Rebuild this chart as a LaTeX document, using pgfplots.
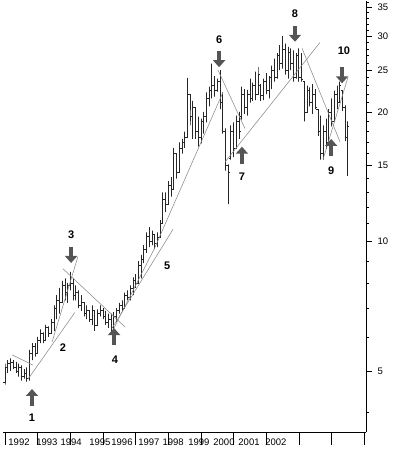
\documentclass[border=0pt]{standalone}
\usepackage{pgfplots}
\usepackage{pgfplotstable}
\pgfplotsset{compat=1.18}
\usetikzlibrary{arrows.meta}
\usepackage{fontspec}
\setmainfont{Liberation Sans}

\definecolor{arrowgray}{HTML}{555555}
\definecolor{trendgray}{HTML}{8A8A8A}

% monthly bars: month index, open, high, low, close
\pgfplotstableread{
m o h l c
0 4.7 5.2 4.65 5.1
1 5.1 5.3 4.95 5.2
2 5.2 5.35 5.0 5.25
3 5.25 5.3 5.05 5.1
4 5.1 5.25 4.95 5.0
5 5.0 5.2 4.85 5.1
6 5.1 5.15 4.75 4.85
7 4.85 5.05 4.8 4.95
8 4.95 5.1 4.72 4.8
9 4.8 5.6 4.75 5.5
10 5.5 5.8 5.3 5.7
11 5.7 5.8 5.4 5.5
12 5.5 6.0 5.5 5.9
13 5.9 6.25 5.8 6.1
14 6.1 6.15 5.8 5.9
15 5.9 6.4 5.9 6.3
16 6.3 6.35 6.0 6.1
17 6.1 6.6 6.1 6.5
18 6.5 7.1 6.2 7.0
19 7.0 7.5 6.6 7.3
20 7.3 7.8 6.8 7.2
21 7.2 8.1 7.2 7.9
22 7.9 8.2 7.3 7.6
23 7.6 8.0 7.2 7.9
24 7.9 8.5 7.7 8.0
25 8.0 8.2 7.3 7.5
26 7.5 7.9 7.3 7.6
27 7.6 7.7 7.0 7.1
28 7.1 7.5 6.9 7.2
29 7.2 7.2 6.7 6.8
30 6.8 7.1 6.6 6.9
31 6.9 6.9 6.5 6.6
32 6.6 7.1 6.4 6.9
33 6.9 6.9 6.2 6.4
34 6.4 6.95 6.4 6.8
35 6.8 7.1 6.7 6.9
36 6.9 7.0 6.6 6.7
37 6.7 6.9 6.4 6.5
38 6.5 6.8 6.3 6.6
39 6.6 6.8 6.1 6.3
40 6.3 6.85 6.2 6.7
41 6.7 7.0 6.5 6.9
42 6.9 7.2 6.8 7.1
43 7.1 7.3 6.9 7.0
44 7.0 7.6 7.0 7.5
45 7.5 7.7 7.3 7.4
46 7.4 7.9 7.3 7.8
47 7.8 8.25 7.5 8.1
48 8.1 8.4 7.8 8.0
49 8.0 9.0 8.0 8.8
50 8.8 9.3 8.2 9.1
51 9.1 9.8 8.9 9.6
52 9.6 10.5 9.4 10.3
53 10.3 10.8 9.7 10.0
54 10.0 10.6 9.8 10.4
55 10.4 10.4 9.6 9.9
56 9.9 10.5 9.7 10.2
57 10.2 11.2 10.2 11.0
58 11.0 13.0 11.0 12.5
59 12.5 13.0 11.7 12.2
60 12.2 13.8 12.2 13.5
61 13.5 14.1 12.7 13.2
62 13.2 16.5 13.2 16.0
63 16.0 16.0 14.0 14.5
64 14.5 17.0 14.5 16.5
65 16.5 17.3 16.0 17.0
66 17.0 18.0 16.5 17.5
67 17.5 24.0 17.5 22.0
68 22.0 22.0 18.6 19.5
69 19.5 21.2 17.3 20.5
70 20.5 20.5 17.3 18.0
71 18.0 19.5 16.6 17.5
72 17.5 19.3 16.9 19.0
73 19.0 20.0 17.8 19.5
74 19.5 22.2 18.9 21.5
75 21.5 22.9 20.6 22.5
76 22.5 25.9 21.5 23.0
77 23.0 24.2 21.7 22.5
78 22.5 23.9 22.3 23.5
79 23.5 25.0 20.3 21.0
80 21.0 22.2 17.8 18.0
81 18.0 18.3 14.6 15.0
82 15.0 15.1 12.2 14.5
83 15.6 18.6 15.5 18.0
84 18.0 18.9 15.7 16.5
85 16.5 19.6 16.4 19.0
86 19.0 20.0 17.3 18.0
87 19.5 22.9 19.2 22.0
88 22.0 22.6 19.8 20.5
89 20.5 22.5 19.6 22.0
90 22.0 23.9 21.0 21.5
91 21.5 23.4 21.2 23.0
92 23.0 24.8 21.3 22.0
93 22.0 25.4 22.0 24.5
94 23.0 23.2 21.2 21.8
95 21.8 23.9 21.3 23.5
96 23.5 24.6 22.0 22.5
97 22.5 24.2 21.5 24.0
98 24.0 25.6 22.6 25.0
99 25.0 26.6 23.5 24.0
100 24.0 27.4 23.9 27.0
101 27.0 28.6 25.0 26.0
102 26.0 30.0 25.2 28.0
103 28.0 28.8 24.4 25.0
104 25.0 28.3 23.9 27.5
105 27.5 28.1 25.0 26.0
106 26.0 27.8 23.5 24.0
107 24.0 27.4 23.9 27.0
108 27.0 28.1 23.5 24.0
109 24.0 27.4 23.5 23.8
110 23.5 23.5 19.0 20.0
111 20.0 23.0 20.3 22.5
112 22.5 22.8 20.6 21.0
113 21.0 23.2 19.8 22.0
114 22.0 22.6 20.3 20.5
115 20.3 20.3 17.6 18.0
116 18.0 19.6 15.5 16.0
117 16.0 18.6 15.5 18.0
118 18.0 19.3 16.4 17.0
119 17.0 20.3 17.3 20.0
120 20.0 21.5 18.5 19.0
121 19.0 22.4 19.3 22.0
122 22.0 23.0 20.3 21.0
123 21.0 23.5 21.5 23.0
124 22.4 22.4 20.1 20.5
125 20.5 20.7 17.1 17.5
126 17.5 19.0 14.2 18.5
}\bars
\pgfplotstablegetrowsof{\bars}
\pgfmathtruncatemacro\lastrow{\pgfplotsretval-1}

\begin{document}
\begin{tikzpicture}[
  barline/.style={black!85, line width=0.65pt},
  trend/.style={trendgray, line width=0.55pt},
  arr/.style={arrowgray, line width=4.5pt, -{Triangle[length=7pt,width=12pt]}},
  num/.style={font=\fontsize{11}{12}\selectfont\bfseries},
]
\begin{axis}[
  at={(0,0)}, anchor=south west,
  scale only axis, width=363pt, height=431pt,
  xmin=-0.735, xmax=132.7,
  ymode=log, ymin=3.607, ymax=36.2,
  axis x line=bottom, axis y line=right,
  axis line style={-, line width=0.8pt},
  clip=false,
  tick align=outside,
  major tick length=6pt, minor tick length=3pt,
  tick style={black, line width=0.6pt},
  xtick={5.15,15.4,24.3,34.9,43.0,52.9,61.8,71.3,80.5,89.7,99.6},
  xticklabels={1992,1993,1994,1995,1996,1997,1998,1999,2000,2001,2002},
  xtick style={draw=none},
  xticklabel style={yshift=3pt},
  ytick={5,10,15,20,25,30,35},
  yticklabels={5,10,15,20,25,30,35},
  yticklabel style={xshift=2pt},
  minor ytick={4,6,7,8,9,11,12,13,14,16,17,18,19,21,22,23,24,26,27,28,29,31,32,33,34,36},
  tick label style={font=\fontsize{9.5}{11}\selectfont},
]
% OHLC bars
\pgfplotsforeachungrouped \r in {0,...,\lastrow}{%
  \pgfplotstablegetelem{\r}{m}\of\bars \let\bm\pgfplotsretval
  \pgfplotstablegetelem{\r}{o}\of\bars \let\bo\pgfplotsretval
  \pgfplotstablegetelem{\r}{h}\of\bars \let\bh\pgfplotsretval
  \pgfplotstablegetelem{\r}{l}\of\bars \let\bl\pgfplotsretval
  \pgfplotstablegetelem{\r}{c}\of\bars \let\bc\pgfplotsretval
  \pgfmathsetmacro\bma{\bm-0.6}%
  \pgfmathsetmacro\bmb{\bm+0.6}%
  \edef\temp{\noexpand\addplot[barline] coordinates
    {(\bma,\bo) (\bm,\bo) (\bm,\bh) (\bm,\bl) (\bm,\bc) (\bmb,\bc)};}%
  \temp
}

% trend lines
\addplot[trend] coordinates {(2.6,5.45) (10.3,5.16)};
\addplot[trend] coordinates {(8.5,4.79) (25.7,6.84)};
\addplot[trend] coordinates {(17.3,5.84) (26.8,9.22)};
\addplot[trend] coordinates {(21.3,8.64) (44.1,6.33)};
\addplot[trend] coordinates {(39.3,6.28) (61.8,10.68)};
\addplot[trend] coordinates {(39.7,6.23) (55.1,9.68) (80.1,22.2)};
\addplot[trend] coordinates {(78.3,25.0) (88.2,18.3)};
\addplot[trend] coordinates {(80.9,15.3) (115.8,29.0)};
\addplot[trend] coordinates {(109.2,28.1) (123.2,17.0)};
\addplot[trend] coordinates {(116.9,15.5) (126.1,24.1)};

% year tick marks below the axis
\pgfplotsinvokeforeach{0,12,...,132}{
  \draw[black, line width=0.6pt] (axis cs:#1,3.607) -- ++(0pt,-13pt);
}

% turning points
\draw[arr] (axis cs:9.93,4.15) -- (axis cs:9.93,4.54);
\node[num] at (axis cs:9.93,3.89) {1};
\node[num] at (axis cs:21.3,5.65) {2};
\draw[arr] (axis cs:24.3,9.71) -- (axis cs:24.3,8.91);
\node[num] at (axis cs:24.3,10.35) {3};
\draw[arr] (axis cs:40.1,5.75) -- (axis cs:40.1,6.29);
\node[num] at (axis cs:40.4,5.30) {4};
\node[num] at (axis cs:59.6,8.77) {5};
\draw[arr] (axis cs:78.7,27.7) -- (axis cs:78.7,25.4);
\node[num] at (axis cs:78.7,29.5) {6};
\draw[arr] (axis cs:87.1,15.1) -- (axis cs:87.1,16.6);
\node[num] at (axis cs:87.1,14.1) {7};
\draw[arr] (axis cs:106.6,31.6) -- (axis cs:106.6,29.1);
\node[num] at (axis cs:106.6,33.9) {8};
\draw[arr] (axis cs:119.9,15.8) -- (axis cs:119.9,17.3);
\node[num] at (axis cs:119.9,14.6) {9};
\draw[arr] (axis cs:123.9,25.4) -- (axis cs:123.9,23.3);
\node[num] at (axis cs:124.6,27.7) {10};
\end{axis}
\pgfresetboundingbox
\path (-3pt,-17pt) rectangle (405pt,432pt);
\end{tikzpicture}
\end{document}
